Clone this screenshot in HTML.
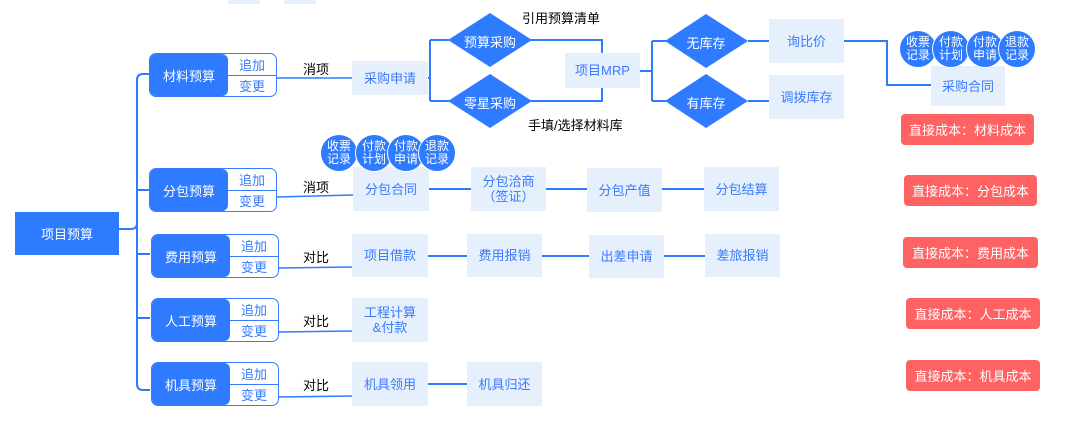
<!DOCTYPE html>
<html><head><meta charset="utf-8"><style>
body{margin:0;width:1070px;height:422px;position:relative;background:#fff;overflow:hidden;font-family:"Liberation Sans","Noto Sans CJK SC",sans-serif;}
.a{position:absolute;box-sizing:border-box;display:flex;align-items:center;justify-content:center;text-align:center;}
.lb{background:#e6f0fd;color:#3a7afe;font-size:13px;line-height:15px;}
.red{background:#fe6262;color:#fff;font-size:13px;border-radius:4px;}
.bud{position:absolute;box-sizing:border-box;border:1.5px solid #3a7afe;border-radius:7px;background:#fff;overflow:hidden;}
.bud .l{position:absolute;left:0;top:0;bottom:0;width:78px;background:#2f7bff;color:#fff;font-size:13px;display:flex;align-items:center;justify-content:center;border-radius:0 6px 6px 0;}
.bud .r{position:absolute;left:78px;right:0;height:50%;color:#3a7afe;font-size:13px;display:flex;align-items:center;justify-content:center;}
.bud .r1{top:0;border-bottom:1.5px solid #3a7afe;}
.bud .r2{bottom:0;}
.t{position:absolute;font-size:13px;color:#000;white-space:nowrap;}
.c{position:absolute;width:38px;height:38px;border-radius:50%;background:#2f7bff;color:#fff;font-size:12px;line-height:13px;display:flex;align-items:center;justify-content:center;text-align:center;border:1px solid #fff;box-sizing:border-box;}
</style></head><body>
<div class="a lb" style="left:228px;top:-10px;width:32px;height:14px"></div>
<div class="a lb" style="left:284px;top:-10px;width:32px;height:14px"></div>

<svg width="1070" height="422" style="position:absolute;left:0;top:0" fill="none" stroke="#2f7bff" stroke-width="2">
<path d="M119 229 H131 Q137 229 137 223 V80 Q137 74 143 74 H150"/>
<path d="M137 223 V384 Q137 390 143 390 H150"/>
<path d="M137 190 H150 M137 254 H150 M137 318 H150"/>
<g stroke-width="1.5">
<path d="M277 78 L352 78"/>
<path d="M277 197 L353 195"/>
<path d="M279 268 L352 267"/>
<path d="M279 332 L352 331"/>
<path d="M279 397 L352 396"/>
</g>
<path d="M414 78 H430 M430 40 V101 M430 40 H449 M430 101 H449"/>
<path d="M531 40 H602 V53 M531 101 H602 V88"/>
<path d="M640 71 H652 M652 41 V101 M652 41 H666 M652 101 H666"/>
<path d="M748 41 H769 M748 101 H769"/>
<path d="M844 41 H887 V85 H931"/>
<path d="M415 189 H471 M546 189 H587 M662 189 H704"/>
<path d="M413 256 H467 M542 256 H589 M664 256 H705"/>
<path d="M413 384 H467"/>
<polygon fill="#2f7bff" stroke="none" points="448,40 490,13 532,40 490,67"/>
<polygon fill="#2f7bff" stroke="none" points="448,101 490,74 532,101 490,128"/>
<polygon fill="#2f7bff" stroke="none" points="665,41 706,14 748,41 706,68"/>
<polygon fill="#2f7bff" stroke="none" points="665,101 706,74 748,101 706,128"/>
</svg>

<div class="a" style="left:15px;top:212px;width:104px;height:43px;background:#2f7bff;color:#fff;font-size:13px">项目预算</div>

<div class="bud" style="left:149px;top:53px;width:128px;height:44px"><div class="l">材料预算</div><div class="r r1">追加</div><div class="r r2">变更</div></div>
<div class="bud" style="left:149px;top:168px;width:128px;height:44px"><div class="l">分包预算</div><div class="r r1">追加</div><div class="r r2">变更</div></div>
<div class="bud" style="left:151px;top:234px;width:128px;height:44px"><div class="l">费用预算</div><div class="r r1">追加</div><div class="r r2">变更</div></div>
<div class="bud" style="left:151px;top:298px;width:128px;height:44px"><div class="l">人工预算</div><div class="r r1">追加</div><div class="r r2">变更</div></div>
<div class="bud" style="left:151px;top:362px;width:128px;height:44px"><div class="l">机具预算</div><div class="r r1">追加</div><div class="r r2">变更</div></div>

<div class="t" style="left:303px;top:59px">消项</div>
<div class="t" style="left:303px;top:177px">消项</div>
<div class="t" style="left:303px;top:247px">对比</div>
<div class="t" style="left:303px;top:311px">对比</div>
<div class="t" style="left:303px;top:375px">对比</div>
<div class="t" style="left:522px;top:8px">引用预算清单</div>
<div class="t" style="left:528px;top:115px">手填/选择材料库</div>

<div class="a lb" style="left:352px;top:61px;width:76px;height:34px">采购申请</div>
<div class="a lb" style="left:565px;top:53px;width:75px;height:35px">项目MRP</div>
<div class="a lb" style="left:769px;top:19px;width:75px;height:44px">询比价</div>
<div class="a lb" style="left:769px;top:75px;width:75px;height:44px">调拨库存</div>
<div class="a lb" style="left:931px;top:66px;width:74px;height:40px">采购合同</div>

<div style="position:absolute;left:450px;top:32px;width:80px;text-align:center;color:#fff;font-size:13px">预算采购</div>
<div style="position:absolute;left:450px;top:93px;width:80px;text-align:center;color:#fff;font-size:13px">零星采购</div>
<div style="position:absolute;left:666px;top:33px;width:80px;text-align:center;color:#fff;font-size:13px">无库存</div>
<div style="position:absolute;left:666px;top:93px;width:80px;text-align:center;color:#fff;font-size:13px">有库存</div>

<div class="c" style="left:899px;top:30px">收票<br>记录</div>
<div class="c" style="left:932px;top:30px">付款<br>计划</div>
<div class="c" style="left:966px;top:30px">付款<br>申请</div>
<div class="c" style="left:998px;top:30px">退款<br>记录</div>

<div class="a lb" style="left:353px;top:167px;width:76px;height:44px">分包合同</div>
<div class="c" style="left:320px;top:134px">收票<br>记录</div>
<div class="c" style="left:355px;top:134px">付款<br>计划</div>
<div class="c" style="left:387px;top:134px">付款<br>申请</div>
<div class="c" style="left:418px;top:134px">退款<br>记录</div>
<div class="a lb" style="left:471px;top:167px;width:75px;height:44px">分包洽商<br>（签证）</div>
<div class="a lb" style="left:587px;top:168px;width:75px;height:44px">分包产值</div>
<div class="a lb" style="left:704px;top:167px;width:75px;height:44px">分包结算</div>

<div class="a lb" style="left:352px;top:234px;width:76px;height:43px">项目借款</div>
<div class="a lb" style="left:467px;top:234px;width:75px;height:43px">费用报销</div>
<div class="a lb" style="left:589px;top:235px;width:75px;height:43px">出差申请</div>
<div class="a lb" style="left:705px;top:234px;width:75px;height:43px">差旅报销</div>
<div class="a lb" style="left:352px;top:298px;width:76px;height:44px">工程计算<br>&amp;付款</div>
<div class="a lb" style="left:352px;top:362px;width:76px;height:44px">机具领用</div>
<div class="a lb" style="left:467px;top:362px;width:75px;height:44px">机具归还</div>

<div class="a red" style="left:901px;top:114px;width:133px;height:31px">直接成本：材料成本</div>
<div class="a red" style="left:904px;top:175px;width:133px;height:31px">直接成本：分包成本</div>
<div class="a red" style="left:903px;top:237px;width:135px;height:31px">直接成本：费用成本</div>
<div class="a red" style="left:906px;top:298px;width:134px;height:31px">直接成本：人工成本</div>
<div class="a red" style="left:906px;top:360px;width:134px;height:31px">直接成本：机具成本</div>
</body></html>
